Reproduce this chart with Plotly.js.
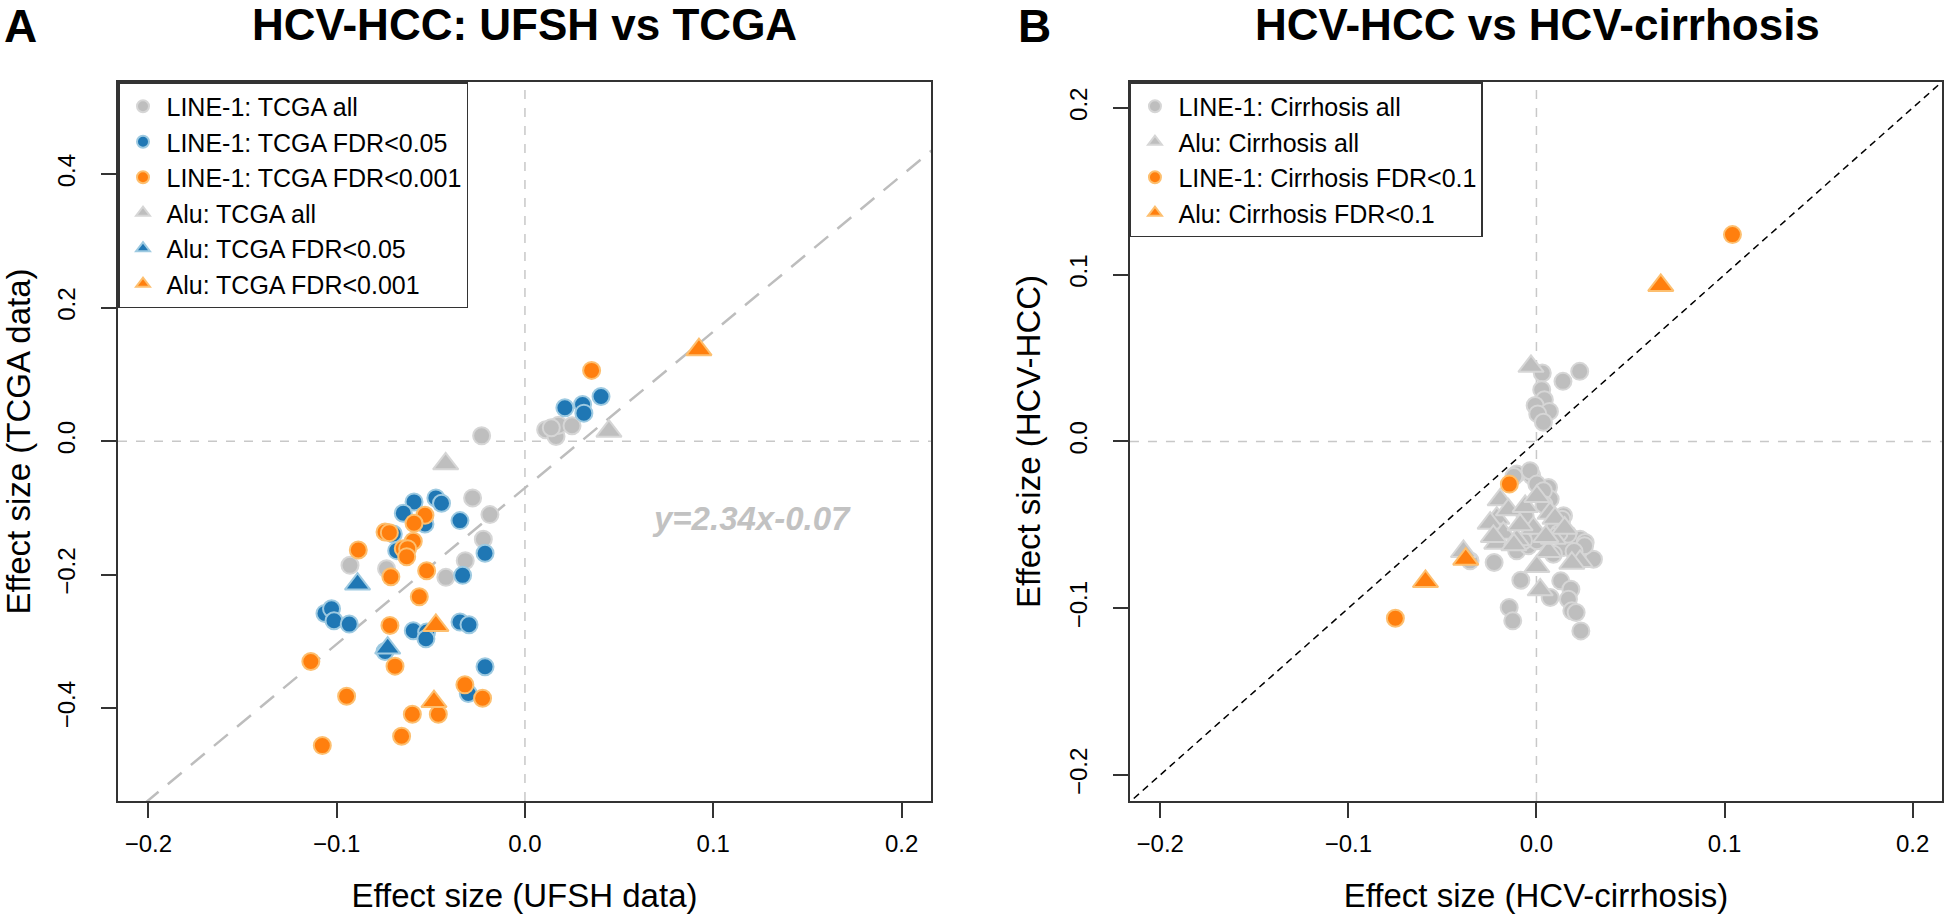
<!DOCTYPE html>
<html>
<head>
<meta charset="utf-8">
<script src="https://cdn.plot.ly/plotly-3.0.1.min.js"></script>
<style>
  body { margin: 0; background: white; }
  #graph { width: 1946px; height: 924px; }
</style>
</head>
<body>
<div id="graph"></div>
<script>
// ---- panel A: UFSH vs TCGA effect sizes ----
var aL1AllX = [-0.023, -0.0278, -0.0186, -0.0221, -0.0317, -0.042, -0.0929, -0.0735, 0.011, 0.0165, 0.0179, 0.025, 0.014];
var aL1AllY = [0.008, -0.085, -0.110, -0.147, -0.179, -0.204, -0.186, -0.191, 0.017, 0.007, 0.024, 0.023, 0.020];
var aAluAllX = [-0.0421, 0.0446];
var aAluAllY = [-0.034, 0.015];
var aL1F05X = [0.0404, 0.0306, 0.0313, 0.0212, -0.0589, -0.0646, -0.0473, -0.0443, -0.0345, -0.0212, -0.0331, -0.0531, -0.0699, -0.0681,
               -0.1062, -0.1027, -0.1014, -0.0933, -0.0593, -0.0522, -0.0526, -0.0345, -0.0297, -0.0212, -0.0301, -0.0743];
var aL1F05Y = [0.067, 0.055, 0.042, 0.050, -0.091, -0.108, -0.085, -0.093, -0.119, -0.168, -0.201, -0.124, -0.139, -0.164,
               -0.258, -0.251, -0.269, -0.274, -0.284, -0.286, -0.296, -0.271, -0.275, -0.338, -0.378, -0.315];
var aAluF05X = [-0.0889, -0.0729];
var aAluF05Y = [-0.214, -0.310];
var aL1F001X = [0.0354, -0.0531, -0.0589, -0.0743, -0.072, -0.0593, -0.0646, -0.0623, -0.0628, -0.0885, -0.0712, -0.0522, -0.0561,
                -0.0717, -0.069, -0.1137, -0.0947, -0.0598, -0.046, -0.0319, -0.0225, -0.0655, -0.1076];
var aL1F001Y = [0.106, -0.111, -0.123, -0.136, -0.137, -0.150, -0.161, -0.161, -0.173, -0.163, -0.203, -0.194, -0.233,
                -0.276, -0.337, -0.330, -0.382, -0.409, -0.409, -0.365, -0.385, -0.442, -0.456];
var aAluF001X = [0.0924, -0.0473, -0.0483];
var aAluF001Y = [0.137, -0.276, -0.390];
var fitSlope = 2.34, fitIntercept = -0.07;

// ---- panel B: HCV-HCC vs HCV-cirrhosis ----
var bL1AllX = [0.0031, 0.0141, 0.023, 0.0028, 0.0042, -0.0007, 0.0069, 0.0007, 0.0037,
               -0.0353, -0.0225, -0.0083, -0.0145, -0.0126, 0.0073, 0.0129, 0.0183, 0.017, 0.0188, 0.0211, 0.0236, 0.0303,
               0.0232, 0.0259, 0.0144, 0.0135, 0.0064, 0.0073, -0.0025, -0.0105, -0.0034, 0.0002, 0.0037, -0.0105, -0.0043,
               0.0099, 0.0144, 0.009, 0.0002, -0.0069, 0.0256, 0.0167,
               -0.012, 0.004, 0.012, 0.020, -0.006];
var bL1AllY = [0.041, 0.036, 0.042, 0.031, 0.025, 0.0215, 0.018, 0.0165, 0.0115,
               -0.0716, -0.0726, -0.0832, -0.0996, -0.1076, -0.0936, -0.0836, -0.0886, -0.0946, -0.1016, -0.1026, -0.1136, -0.0706,
               -0.0586, -0.0606, -0.0446, -0.0466, -0.0276, -0.0346, -0.0206, -0.0196, -0.0176, -0.0256, -0.0296, -0.0656, -0.0626,
               -0.0516, -0.0636, -0.0676, -0.0596, -0.0596, -0.0626, -0.0556,
               -0.021, -0.038, -0.055, -0.066, -0.045];
var bAluAllX = [-0.0029, -0.0388, 0.002, -0.0211, -0.0246, -0.0193, -0.0149, -0.006, 0.0002, 0.0073, 0.0099, -0.0211, -0.0176,
                -0.0105, -0.0016, -0.0087, 0.0064, 0.0002, 0.009, 0.0232, 0.0188, -0.0229, 0.015, -0.012, 0.005];
var bAluAllY = [0.045, -0.066, -0.089, -0.046, -0.049, -0.035, -0.041, -0.039, -0.033, -0.043, -0.046, -0.061, -0.055,
                -0.059, -0.052, -0.050, -0.066, -0.075, -0.058, -0.072, -0.073, -0.057, -0.052, -0.062, -0.057];
var bL1FdrX = [0.1042, -0.0144, -0.075];
var bL1FdrY = [0.124, -0.0256, -0.106];
var bAluFdrX = [0.0661, -0.0376, -0.059];
var bAluFdrY = [0.0935, -0.0706, -0.084];

var font = 'Liberation Sans, Arial, Helvetica, sans-serif';
var grey = '#bebebe', greyEdge = '#d6d6d6';
var blue = '#1f77b4', blueEdge = '#9ecae1';
var orange = '#ff7f0e', orangeEdge = '#fdbf6f';

function pts(x, y, name, fill, edge, symbol, xa, ya, leg, rank) {
    return {
        type: 'scatter',
        mode: 'markers',
        name: name,
        x: x,
        y: y,
        xaxis: xa,
        yaxis: ya,
        legend: leg,
        legendrank: rank,
        marker: {
            symbol: symbol,
            size: symbol == 'circle' ? 17 : 22,
            color: fill,
            line: {color: edge, width: 2}
        },
        hoverinfo: 'x+y+name'
    };
}

var fitX = [-0.3, 0.3];
var fitY = fitX.map(function(v) { return fitSlope * v + fitIntercept; });

var data = [
    {type: 'scatter', mode: 'lines', x: fitX, y: fitY, xaxis: 'x', yaxis: 'y', showlegend: false,
     line: {color: '#bdbdbd', width: 2.5, dash: '18px,12px'}, hoverinfo: 'skip'},
    pts(aL1AllX, aL1AllY, 'LINE-1: TCGA all', grey, greyEdge, 'circle', 'x', 'y', 'legend', 1),
    pts(aAluAllX, aAluAllY, 'Alu: TCGA all', grey, greyEdge, 'triangle-up', 'x', 'y', 'legend', 4),
    pts(aL1F05X, aL1F05Y, 'LINE-1: TCGA FDR<0.05', blue, blueEdge, 'circle', 'x', 'y', 'legend', 2),
    pts(aAluF05X, aAluF05Y, 'Alu: TCGA FDR<0.05', blue, blueEdge, 'triangle-up', 'x', 'y', 'legend', 5),
    pts(aL1F001X, aL1F001Y, 'LINE-1: TCGA FDR<0.001', orange, orangeEdge, 'circle', 'x', 'y', 'legend', 3),
    pts(aAluF001X, aAluF001Y, 'Alu: TCGA FDR<0.001', orange, orangeEdge, 'triangle-up', 'x', 'y', 'legend', 6),

    {type: 'scatter', mode: 'lines', x: fitX, y: fitX, xaxis: 'x2', yaxis: 'y2', showlegend: false,
     line: {color: '#000000', width: 1.5, dash: '7px,5px'}, hoverinfo: 'skip'},
    pts(bL1AllX, bL1AllY, 'LINE-1: Cirrhosis all', grey, greyEdge, 'circle', 'x2', 'y2', 'legend2', 1),
    pts(bAluAllX, bAluAllY, 'Alu: Cirrhosis all', grey, greyEdge, 'triangle-up', 'x2', 'y2', 'legend2', 2),
    pts(bL1FdrX, bL1FdrY, 'LINE-1: Cirrhosis FDR<0.1', orange, orangeEdge, 'circle', 'x2', 'y2', 'legend2', 3),
    pts(bAluFdrX, bAluFdrY, 'Alu: Cirrhosis FDR<0.1', orange, orangeEdge, 'triangle-up', 'x2', 'y2', 'legend2', 4)
];

function xax(domain, title, anchor) {
    return {
        domain: domain,
        anchor: anchor,
        range: [-0.2161, 0.2156],
        tickvals: [-0.2, -0.1, 0, 0.1, 0.2],
        tickformat: '.1f',
        ticks: 'outside', ticklen: 15, tickwidth: 1.5, tickcolor: '#333',
        ticklabelstandoff: 5,
        tickfont: {family: font, size: 24, color: '#000'},
        showline: true, linecolor: '#333', linewidth: 1.5, mirror: true,
        showgrid: false, zeroline: false,
        title: {text: title, font: {family: font, size: 33, color: '#000'}, standoff: 28}
    };
}
function yax(range, ticks, title, anchor, labelGap) {
    return {
        anchor: anchor,
        range: range,
        tickvals: ticks,
        tickformat: '.1f',
        tickangle: -90,
        ticks: 'outside', ticklen: 15, tickwidth: 1.5, tickcolor: '#333',
        ticklabelstandoff: labelGap,
        tickfont: {family: font, size: 24, color: '#000'},
        showline: true, linecolor: '#333', linewidth: 1.5, mirror: true,
        showgrid: false, zeroline: false,
        title: {text: title, font: {family: font, size: 33, color: '#000'}, standoff: 14}
    };
}

function zeroLines(xa, ya) {
    var st = {color: '#c8c8c8', width: 1.5, dash: 'dash'};
    return [
        {type: 'line', xref: xa, yref: ya + ' domain', x0: 0, x1: 0, y0: 0, y1: 1, line: st, layer: 'below'},
        {type: 'line', xref: xa + ' domain', yref: ya, x0: 0, x1: 1, y0: 0, y1: 0, line: st, layer: 'below'}
    ];
}

function legendBox(x) {
    return {
        x: x, y: 1, xref: 'paper', yref: 'paper', xanchor: 'left', yanchor: 'top',
        bgcolor: 'white', bordercolor: '#333', borderwidth: 1.5,
        font: {family: font, size: 25, color: '#000'},
        itemsizing: 'constant', itemwidth: 37, traceorder: 'normal', tracegroupgap: 0
    };
}

function label(text, x, y, size) {
    return {text: text, xref: 'paper', yref: 'paper', x: x, y: y, xanchor: 'center', yanchor: 'middle',
            showarrow: false, font: {family: font, size: size, color: '#000'}};
}

var layout = {
    width: 1946,
    height: 924,
    margin: {l: 118, r: 4, t: 82, b: 123},
    paper_bgcolor: 'white',
    plot_bgcolor: 'white',
    showlegend: true,
    xaxis: xax([0, 0.4457], 'Effect size (UFSH data)', 'y'),
    yaxis: yax([-0.539, 0.538], [-0.4, -0.2, 0, 0.2, 0.4], 'Effect size (TCGA data)', 'x', 17),
    xaxis2: xax([0.5548, 1], 'Effect size (HCV-cirrhosis)', 'y2'),
    yaxis2: yax([-0.2156, 0.2155], [-0.2, -0.1, 0, 0.1, 0.2], 'Effect size (HCV-HCC)', 'x2', 17),
    legend: legendBox(0),
    legend2: legendBox(0.5548),
    shapes: zeroLines('x', 'y').concat(zeroLines('x2', 'y2')),
    annotations: [
        label('<b>A</b>', -0.0537, 1.0779, 46),
        label('<b>HCV-HCC: UFSH vs TCGA</b>', 0.2231, 1.0793, 44),
        label('<b>B</b>', 0.5022, 1.0779, 46),
        label('<b>HCV-HCC vs HCV-cirrhosis</b>', 0.778, 1.0793, 44),
        {text: '<b><i>y=2.34x-0.07</i></b>', xref: 'x', yref: 'y', x: 0.1204, y: -0.1163, xanchor: 'center', yanchor: 'middle',
         showarrow: false, font: {family: font, size: 33, color: '#c2c2c2'}}
    ]
};

Plotly.newPlot('graph', data, layout, {displayModeBar: false, responsive: false});
</script>
</body>
</html>
